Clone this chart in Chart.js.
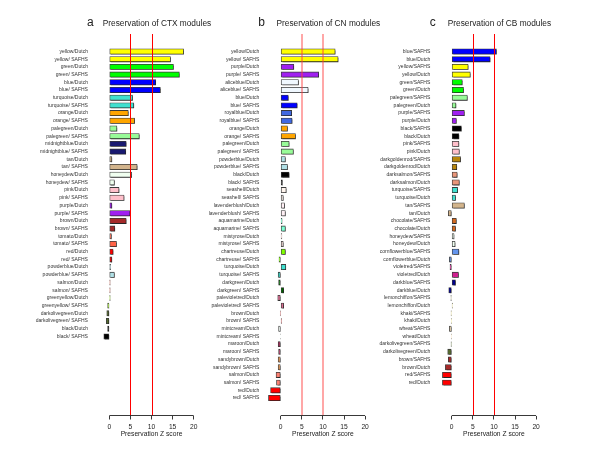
<!DOCTYPE html>
<html>
<head>
<meta charset="utf-8">
<script src="https://cdn.jsdelivr.net/npm/chart.js@4.4.1/dist/chart.umd.min.js"></script>
<style>
  html, body { margin: 0; padding: 0; background: #fff; }
  #wrap { position: relative; width: 600px; height: 450px; }
  #wrap canvas { position: absolute; left: 0; top: 0; }
</style>
</head>
<body>
<div id="wrap">
  <canvas id="ca" width="600" height="450"></canvas>
  <canvas id="cb" width="600" height="450"></canvas>
  <canvas id="cc" width="600" height="450"></canvas>
</div>
<script>
// --- data ---
var ctxLabels = ["yellow/Dutch", "yellow/ SAFHS", "green/Dutch", "green/ SAFHS", "blue/Dutch", "blue/ SAFHS",
  "turquoise/Dutch", "turquoise/ SAFHS", "orange/Dutch", "orange/ SAFHS", "palegreen/Dutch", "palegreen/ SAFHS",
  "midnightblue/Dutch", "midnightblue/ SAFHS", "tan/Dutch", "tan/ SAFHS", "honeydew/Dutch", "honeydew/ SAFHS",
  "pink/Dutch", "pink/ SAFHS", "purple/Dutch", "purple/ SAFHS", "brown/Dutch", "brown/ SAFHS",
  "tomato/Dutch", "tomato/ SAFHS", "red/Dutch", "red/ SAFHS", "powderblue/Dutch", "powderblue/ SAFHS",
  "salmon/Dutch", "salmon/ SAFHS", "greenyellow/Dutch", "greenyellow/ SAFHS", "darkolivegreen/Dutch",
  "darkolivegreen/ SAFHS", "black/Dutch", "black/ SAFHS"];
var ctxValues = [17.6, 14.5, 15.2, 16.6, 11.0, 12.1,
  5.5, 5.8, 4.5, 6.0, 1.8, 7.1,
  4.0, 3.9, 0.6, 6.6, 5.3, 1.2,
  2.3, 3.5, 0.6, 4.9, 4.0, 1.3,
  0.5, 1.7, 0.9, 0.6, 0.3, 1.2,
  0.2, 0.2, 0.2, -0.4, -0.6,
  -0.7, -0.4, -1.3];

var cnLabels = ["yellow/Dutch", "yellow/ SAFHS", "purple/Dutch", "purple/ SAFHS", "aliceblue/Dutch", "aliceblue/ SAFHS",
  "blue/Dutch", "blue/ SAFHS", "royalblue/Dutch", "royalblue/ SAFHS", "orange/Dutch", "orange/ SAFHS",
  "palegreen/Dutch", "palegreen/ SAFHS", "powderblue/Dutch", "powderblue/ SAFHS", "black/Dutch", "black/ SAFHS",
  "seashell/Dutch", "seashell/ SAFHS", "lavenderblush/Dutch", "lavenderblush/ SAFHS", "aquamarine/Dutch",
  "aquamarine/ SAFHS", "mistyrose/Dutch", "mistyrose/ SAFHS", "chartreuse/Dutch", "chartreuse/ SAFHS",
  "turquoise/Dutch", "turquoise/ SAFHS", "darkgreen/Dutch", "darkgreen/ SAFHS", "palevioletred/Dutch",
  "palevioletred/ SAFHS", "brown/Dutch", "brown/ SAFHS", "mintcream/Dutch", "mintcream/ SAFHS",
  "maroon/Dutch", "maroon/ SAFHS", "sandybrown/Dutch", "sandybrown/ SAFHS", "salmon/Dutch", "salmon/ SAFHS",
  "red/Dutch", "red/ SAFHS"];
var cnValues = [12.9, 13.6, 3.1, 9.0, 4.2, 6.5,
  1.8, 3.9, 2.6, 2.7, 1.6, 3.5,
  2.0, 3.0, 1.1, 1.6, 2.0, 0.4,
  1.3, 0.6, 0.9, 1.1, 0.3,
  1.1, 0.25, 0.6, 1.1, -0.4,
  1.2, -0.6, -0.5, 0.7, -0.7,
  0.7, -0.1, 0.15, -0.5, -0.1,
  -0.6, -0.5, -0.6, -0.6, -1.1, -1.0,
  -2.4, -2.9];

var cbLabels = ["blue/SAFHS", "blue/Dutch", "yellow/SAFHS", "yellow/Dutch", "green/SAFHS", "green/Dutch",
  "palegreen/SAFHS", "palegreen/Dutch", "purple/SAFHS", "purple/Dutch", "black/SAFHS", "black/Dutch",
  "pink/SAFHS", "pink/Dutch", "darkgoldenrod/SAFHS", "darkgoldenrod/Dutch", "darksalmon/SAFHS", "darksalmon/Dutch",
  "turquoise/SAFHS", "turquoise/Dutch", "tan/SAFHS", "tan/Dutch", "chocolate/SAFHS", "chocolate/Dutch",
  "honeydew/SAFHS", "honeydew/Dutch", "cornflowerblue/SAFHS", "cornflowerblue/Dutch", "violetred/SAFHS",
  "violetred/Dutch", "darkblue/SAFHS", "darkblue/Dutch", "lemonchiffon/SAFHS", "lemonchiffon/Dutch",
  "khaki/SAFHS", "khaki/Dutch", "wheat/SAFHS", "wheat/Dutch", "darkolivegreen/SAFHS", "darkolivegreen/Dutch",
  "brown/SAFHS", "brown/Dutch", "red/SAFHS", "red/Dutch"];
var cbValues = [10.6, 9.1, 3.9, 4.4, 2.5, 2.8,
  3.7, 1.0, 3.0, 1.1, 2.3, 1.7,
  1.7, 1.8, 2.1, 1.2, 1.3, 1.8,
  1.4, 0.9, 3.0, -0.8, 1.1, 0.9,
  0.55, 0.8, 1.7, -0.55, -0.4,
  1.6, 0.9, -0.7, -0.2, 0.2,
  -0.15, -0.1, -0.55, -0.1, -0.15, -0.95,
  -0.8, -1.5, -2.2, -2.2];

var xTicks = [0, 5, 10, 15, 20];
var refLines = [5, 10];

// R colour names that differ from the CSS ones
var rColors = { green: "#00ff00", purple: "#a020f0", maroon: "#b03060", violetred: "#d02090" };
function colorOf(label) {
  var n = label.split("/")[0];
  return rColors[n] || n;
}

var FONT = "'Liberation Sans', Arial, sans-serif";
var PPU = 4.22, X_MIN = -4.12, X_MAX = 26.12;
var Y_MIN = -2.27, Y_MAX = 47.27, Y_AXIS_W = 90;

var panels = [
  { id: "ca", letter: "a", title: "Preservation of CTX modules", labels: ctxLabels, values: ctxValues,
    zero: 109.3, line: "#ff0000", lineW: 1 },
  { id: "cb", letter: "b", title: "Preservation of CN modules", labels: cnLabels, values: cnValues,
    zero: 280.7, line: "rgba(255,60,60,0.45)", lineW: 2 },
  { id: "cc", letter: "c", title: "Preservation of CB modules", labels: cbLabels, values: cbValues,
    zero: 451.7, line: "#ff0000", lineW: 1 }
];

function snap(px, w) {
  // put odd-width lines on pixel centres so they stay crisp
  return w % 2 === 1 ? Math.round(px) + 0.5 : Math.round(px);
}

function panelPlugin(p) {
  return {
    id: "panel",
    beforeDatasetsDraw: function (chart) {
      var c = chart.ctx;
      c.save();
      c.shadowColor = "rgba(0,0,0,0.35)";
      c.shadowOffsetX = 1.2;
      c.shadowOffsetY = 1.2;
      c.shadowBlur = 0.6;
    },
    afterDatasetsDraw: function (chart) {
      var c = chart.ctx, a = chart.chartArea, xs = chart.scales.x;
      c.restore();
      c.save();
      c.shadowColor = "rgba(0,0,0,0)";
      c.strokeStyle = p.line;
      c.lineWidth = p.lineW;
      refLines.forEach(function (v) {
        var px = snap(xs.getPixelForValue(v), p.lineW);
        c.beginPath(); c.moveTo(px, a.top); c.lineTo(px, a.bottom); c.stroke();
      });
      c.restore();
    },
    afterDraw: function (chart) {
      var c = chart.ctx, a = chart.chartArea, xs = chart.scales.x;
      c.save();
      // axis line only across the tick range
      c.strokeStyle = "#222"; c.lineWidth = 0.9;
      c.beginPath();
      c.moveTo(xs.getPixelForValue(xTicks[0]), a.bottom);
      c.lineTo(xs.getPixelForValue(xTicks[xTicks.length - 1]), a.bottom);
      c.stroke();
      c.fillStyle = "#222";
      c.textBaseline = "alphabetic";
      c.textAlign = "center";
      c.font = "6.7px " + FONT;
      c.fillText("Preservation Z score", xs.getPixelForValue(10), 436);
      c.font = "8.3px " + FONT;
      c.fillText(p.title, xs.getPixelForValue(11.3), 26);
      c.font = "12px " + FONT;
      c.fillText(p.letter, xs.getPixelForValue(0) - 19, 26);
      c.restore();
    }
  };
}

panels.forEach(function (p) {
  var left = p.zero + X_MIN * PPU, right = p.zero + X_MAX * PPU;
  var labels = p.labels;
  new Chart(document.getElementById(p.id), {
    type: "bar",
    data: {
      datasets: [{
        data: p.values.map(function (v, i) { return { x: v, y: i }; }),
        backgroundColor: labels.map(colorOf),
        borderColor: "#3a3a3a",
        borderWidth: 0.8,
        borderSkipped: false,
        barThickness: 5.3
      }]
    },
    options: {
      indexAxis: "y",
      responsive: false,
      animation: false,
      devicePixelRatio: 1,
      layout: { padding: { left: left - Y_AXIS_W, right: 600 - right, top: 34, bottom: 0 } },
      plugins: { legend: { display: false }, tooltip: { enabled: false }, title: { display: false } },
      scales: {
        x: {
          type: "linear", min: X_MIN, max: X_MAX, bounds: "data",
          afterBuildTicks: function (s) { s.ticks = xTicks.map(function (v) { return { value: v }; }); },
          afterFit: function (s) { s.height = 34.5; },
          border: { display: false },
          grid: { display: true, drawOnChartArea: false, drawTicks: true, tickLength: 4, color: "#222", lineWidth: 0.9 },
          ticks: { font: { size: 6.7, family: FONT }, color: "#222", padding: 4, maxRotation: 0, autoSkip: false }
        },
        y: {
          type: "linear", min: Y_MIN, max: Y_MAX, reverse: true, offset: false, bounds: "data",
          afterBuildTicks: function (s) { s.ticks = labels.map(function (l, i) { return { value: i }; }); },
          afterFit: function (s) { s.width = Y_AXIS_W; },
          border: { display: false },
          grid: { display: false, drawTicks: false },
          ticks: {
            autoSkip: false, padding: 4, color: "#333",
            font: { size: 5, family: FONT },
            callback: function (v) { return labels[v] !== undefined ? labels[v] : ""; }
          }
        }
      }
    },
    plugins: [panelPlugin(p)]
  });
});
</script>
</body>
</html>
